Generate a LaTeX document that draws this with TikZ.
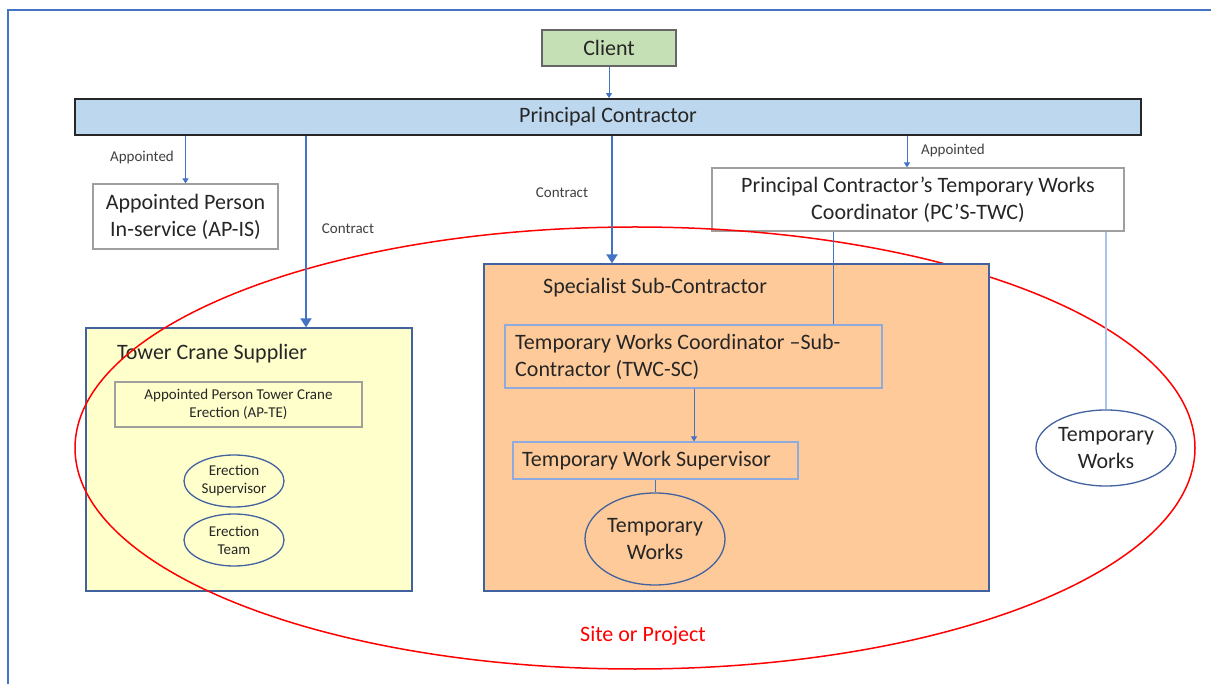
\documentclass[tikz,border=0pt]{standalone}
\usepackage{fontspec}
\setmainfont{Carlito}
\usetikzlibrary{shapes.geometric,arrows.meta}
\definecolor{frameblue}{HTML}{4472C4}
\definecolor{clientgreen}{HTML}{C5E0B4}
\definecolor{pcblue}{HTML}{BDD7EE}
\definecolor{tcyellow}{HTML}{FFFFCC}
\definecolor{sscpeach}{HTML}{FFCA99}
\definecolor{darkblue}{HTML}{41629F}
\definecolor{lightedge}{HTML}{8FAADC}
\definecolor{paleline}{HTML}{A9C4EB}
\definecolor{txt}{HTML}{262626}
\definecolor{lbl}{HTML}{404040}
\tikzset{
  big/.style={font=\fontsize{22}{27}\selectfont, text=txt},
  small/.style={font=\fontsize{15}{18}\selectfont, text=txt},
  plainbox/.style={draw=gray!75, line width=1.1pt, fill=white, inner sep=0pt, align=center},
  conn/.style={draw=frameblue, line width=1pt, -{Triangle[width=6pt,length=5pt]}},
  contract/.style={draw=frameblue, line width=2pt, -{Triangle[width=11pt,length=9pt]}},
  plainline/.style={draw=frameblue, line width=1pt},
  lab/.style={font=\fontsize{15}{18}\selectfont, text=lbl},
  oval/.style={ellipse, draw=darkblue, line width=1.3pt, inner sep=0pt, align=center}
}
\begin{document}
\begin{tikzpicture}[x=1pt,y=-1pt]
\useasboundingbox (0,0) rectangle (1211,684);
% frame
\draw[frameblue, line width=1.5pt] (8,684) -- (8,10) -- (1211,10);

% top nodes
\node[plainbox, big, fill=clientgreen, draw=gray!80!black, minimum width=134pt, minimum height=36pt] (client) at (609,48) {Client};
\node[plainbox, big, fill=pcblue, draw=txt, line width=1.8pt, minimum width=1066pt, minimum height=36pt] (pc) at (608,117) {Principal Contractor};
\node[plainbox, big, minimum width=185pt, minimum height=65pt] (apis) at (185.5,216.5) {Appointed Person\\In-service (AP-IS)};
\node[plainbox, big, minimum width=412pt, minimum height=63pt] (pctwc) at (918,199.5) {Principal Contractor’s Temporary Works\\Coordinator (PC’S-TWC)};

% tower crane supplier
\node[draw=darkblue, line width=1.3pt, fill=tcyellow, minimum width=326pt, minimum height=263pt, inner sep=0pt] (tcs) at (249,459.5) {};
\node[big, anchor=west, inner sep=0pt] (tcstitle) at (117,354) {Tower Crane Supplier};
\node[plainbox, small, fill=tcyellow, minimum width=247pt, minimum height=45pt] (apte) at (238.5,404.5) {Appointed Person Tower Crane\\Erection (AP-TE)};
\node[oval, small, minimum width=100pt, minimum height=52pt] (es) at (234,481) {Erection\\Supervisor};
\node[oval, small, minimum width=100pt, minimum height=52pt] (et) at (234,540) {Erection\\Team};

% site ellipse
\node[ellipse, draw=red, line width=1.5pt, minimum width=1120pt, minimum height=442pt, inner sep=0pt] (site) at (635,448) {};
\node[big, text=red, inner sep=0pt] (sitelabel) at (643,636) {Site or Project};

% specialist sub-contractor
\node[draw=darkblue, line width=1.3pt, fill=sscpeach, minimum width=505pt, minimum height=327pt, inner sep=0pt] (ssc) at (736.5,427.5) {};
\node[big, anchor=west, inner sep=0pt] (ssctitle) at (543,288) {Specialist Sub-Contractor};
\node[draw=lightedge, line width=1.1pt, fill=sscpeach, minimum width=377pt, minimum height=63pt, inner sep=0pt] (twcsc) at (693.5,356.5) {};
\node[big, anchor=west, align=left, inner sep=0pt] (twcsctext) at (515,356.5) {Temporary Works Coordinator –Sub-\\Contractor (TWC-SC)};
\node[draw=lightedge, line width=1.1pt, fill=sscpeach, minimum width=285pt, minimum height=37pt, inner sep=0pt] (tws) at (655.5,460.5) {};
\node[big, anchor=west, inner sep=0pt] (twstext) at (522,461) {Temporary Work Supervisor};
\node[oval, big, minimum width=140pt, minimum height=92pt] (tw1) at (655,539) {Temporary\\Works};

% right temporary works
\node[oval, big, fill=white, minimum width=140pt, minimum height=76pt] (tw2) at (1106,448) {Temporary\\Works};

% helper coordinates
\coordinate (c1) at (306,0);
\coordinate (c2) at (612,0);
\coordinate (c3) at (907,0);
\coordinate (c4) at (833,0);

% connectors
\draw[conn] (client.south) -- (client.south |- pc.north);
\draw[conn] (apis.north |- pc.south) -- (apis.north);
\draw[contract] (pc.south -| c1) -- (tcs.north -| c1);
\draw[contract] (pc.south -| c2) -- (ssc.north -| c2);
\draw[conn] (pc.south -| c3) -- (pctwc.north -| c3);
\draw[plainline] (pctwc.south -| c4) -- (twcsc.north -| c4);
\draw[draw=paleline, line width=1.2pt] (tw2.north |- pctwc.south) -- (tw2.north);
\draw[conn] (twcsc.south -| tws.north) ++(38.5,0) coordinate (c5) -- (c5 |- tws.north);
\draw[plainline] (tws.south -| tw1.north) -- (tw1.north);

% labels
\node[lab] (l1) at (142,158) {Appointed};
\node[lab] (l2) at (348,229) {Contract};
\node[lab] (l3) at (562,193) {Contract};
\node[lab] (l4) at (953,151) {Appointed};
\end{tikzpicture}
\end{document}
